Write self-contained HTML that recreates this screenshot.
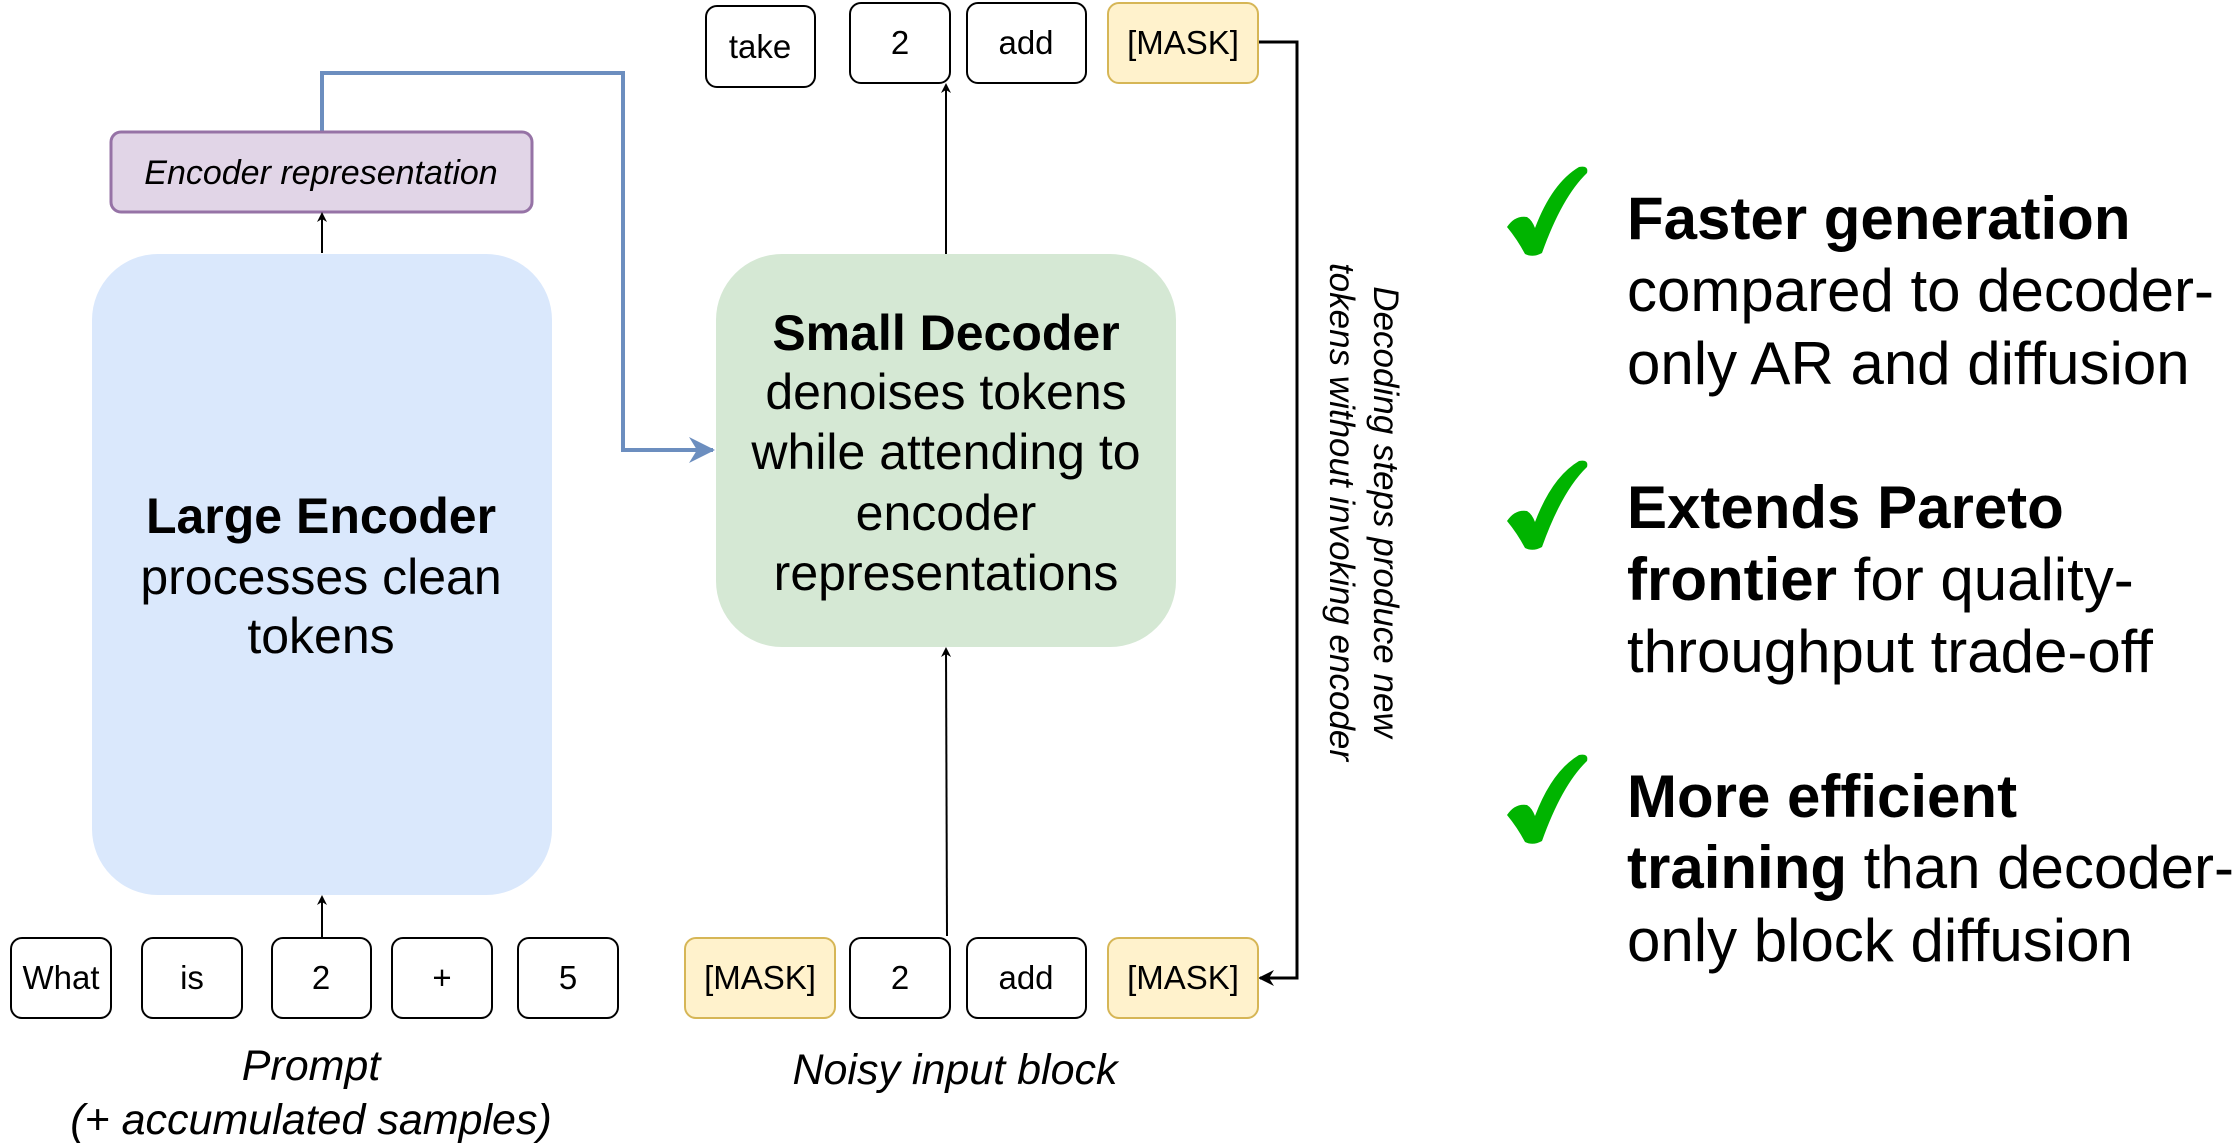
<!DOCTYPE html>
<html><head><meta charset="utf-8"><style>
html,body{margin:0;padding:0;background:#fff;}
svg{display:block;}
text{font-family:"Liberation Sans",Arial,sans-serif;fill:#000;}
</style></head><body>
<svg width="2237" height="1147" viewBox="0 0 2237 1147" xmlns="http://www.w3.org/2000/svg" font-family="Liberation Sans, Arial, sans-serif">
<defs>
<marker id="ab" markerWidth="10" markerHeight="10" refX="8" refY="5" orient="auto" markerUnits="userSpaceOnUse"><path d="M0,0 L10,5 L0,10 L3,5 Z" fill="#000"/></marker>
<marker id="ab2" markerWidth="16" markerHeight="16" refX="14" refY="8" orient="auto" markerUnits="userSpaceOnUse"><path d="M0,0 L16,8 L0,16 L5,8 Z" fill="#000"/></marker>
<marker id="abl" markerWidth="26" markerHeight="26" refX="24" refY="13" orient="auto" markerUnits="userSpaceOnUse"><path d="M0,0 L26,13 L0,26 L8,13 Z" fill="#6c8ebf"/></marker>
<g id="chk"><path d="M0,62 Q8,50 20,52 Q25,55 28,63 Q45,18 72,2 Q82,0 80,8 Q55,32 35,88 Q26,93 18,89 Q10,74 0,62 Z" fill="#00b400"/></g>
</defs>

<polyline points="322,132 322,73 623,73 623,450 713,450" fill="none" stroke="#6c8ebf" stroke-width="4" marker-end="url(#abl)"/>

<rect x="111" y="132" width="421" height="80" rx="10" fill="#e1d5e7" stroke="#9673a6" stroke-width="3"/>
<text x="321" y="184" font-size="34" font-style="italic" text-anchor="middle">Encoder representation</text>

<rect x="92" y="254" width="460" height="641" rx="66" fill="#dae8fc"/>
<text x="321" y="533" font-size="50" font-weight="bold" text-anchor="middle">Large Encoder</text>
<text x="321" y="594" font-size="50" text-anchor="middle">processes clean</text>
<text x="321" y="653" font-size="50" text-anchor="middle">tokens</text>

<rect x="716" y="254" width="460" height="393" rx="66" fill="#d5e8d4"/>
<text x="946" y="350" font-size="50" font-weight="bold" text-anchor="middle">Small Decoder</text>
<text x="946" y="409" font-size="50" text-anchor="middle">denoises tokens</text>
<text x="946" y="469" font-size="50" text-anchor="middle">while attending to</text>
<text x="946" y="530" font-size="50" text-anchor="middle">encoder</text>
<text x="946" y="590" font-size="50" text-anchor="middle">representations</text>

<line x1="322" y1="253" x2="322" y2="214" stroke="#000" stroke-width="2" marker-end="url(#ab)"/>
<line x1="322" y1="938" x2="322" y2="897" stroke="#000" stroke-width="2" marker-end="url(#ab)"/>
<line x1="946" y1="254" x2="946" y2="85" stroke="#000" stroke-width="2" marker-end="url(#ab)"/>
<line x1="947" y1="936" x2="946" y2="649" stroke="#000" stroke-width="2" marker-end="url(#ab)"/>
<polyline points="1258,42 1297,42 1297,978 1260,978" fill="none" stroke="#000" stroke-width="3" marker-end="url(#ab2)"/>

<g font-size="33" text-anchor="middle">
<rect x="706" y="6" width="109" height="81" rx="11" fill="#fff" stroke="#000" stroke-width="2"/><text x="760" y="58">take</text>
<rect x="850" y="3" width="100" height="80" rx="11" fill="#fff" stroke="#000" stroke-width="2"/><text x="900" y="54">2</text>
<rect x="967" y="3" width="119" height="80" rx="11" fill="#fff" stroke="#000" stroke-width="2"/><text x="1026" y="54">add</text>
<rect x="1108" y="3" width="150" height="80" rx="11" fill="#fff2cc" stroke="#d6b656" stroke-width="2"/><text x="1183" y="54">[MASK]</text>

<rect x="11" y="938" width="100" height="80" rx="11" fill="#fff" stroke="#000" stroke-width="2"/><text x="61" y="989">What</text>
<rect x="142" y="938" width="100" height="80" rx="11" fill="#fff" stroke="#000" stroke-width="2"/><text x="192" y="989">is</text>
<rect x="272" y="938" width="99" height="80" rx="11" fill="#fff" stroke="#000" stroke-width="2"/><text x="321" y="989">2</text>
<rect x="392" y="938" width="100" height="80" rx="11" fill="#fff" stroke="#000" stroke-width="2"/><text x="442" y="989">+</text>
<rect x="518" y="938" width="100" height="80" rx="11" fill="#fff" stroke="#000" stroke-width="2"/><text x="568" y="989">5</text>
<rect x="685" y="938" width="150" height="80" rx="11" fill="#fff2cc" stroke="#d6b656" stroke-width="2"/><text x="760" y="989">[MASK]</text>
<rect x="850" y="938" width="100" height="80" rx="11" fill="#fff" stroke="#000" stroke-width="2"/><text x="900" y="989">2</text>
<rect x="967" y="938" width="119" height="80" rx="11" fill="#fff" stroke="#000" stroke-width="2"/><text x="1026" y="989">add</text>
<rect x="1108" y="938" width="150" height="80" rx="11" fill="#fff2cc" stroke="#d6b656" stroke-width="2"/><text x="1183" y="989">[MASK]</text>
</g>

<g font-size="43" font-style="italic" text-anchor="middle">
<text x="311" y="1080">Prompt</text>
<text x="311" y="1134">(+ accumulated samples)</text>
<text x="955" y="1084">Noisy input block</text>
</g>

<g font-size="35" font-style="italic" text-anchor="middle">
<text transform="translate(1374,512) rotate(90)">Decoding steps produce new</text>
<text transform="translate(1330,512) rotate(90)">tokens without invoking encoder</text>
</g>

<use href="#chk" transform="translate(1507,165)"/>
<use href="#chk" transform="translate(1507,459)"/>
<use href="#chk" transform="translate(1507,753)"/>

<g font-size="60">
<text x="1627" y="239" font-weight="bold">Faster generation</text>
<text x="1627" y="311">compared to decoder-</text>
<text x="1627" y="384">only AR and diffusion</text>
<text x="1627" y="528" font-weight="bold">Extends Pareto</text>
<text x="1627" y="600"><tspan font-weight="bold">frontier</tspan> for quality-</text>
<text x="1627" y="672">throughput trade-off</text>
<text x="1627" y="817" font-weight="bold">More efficient</text>
<text x="1627" y="888"><tspan font-weight="bold">training</tspan> than decoder-</text>
<text x="1627" y="961">only block diffusion</text>
</g>
</svg>
</body></html>
